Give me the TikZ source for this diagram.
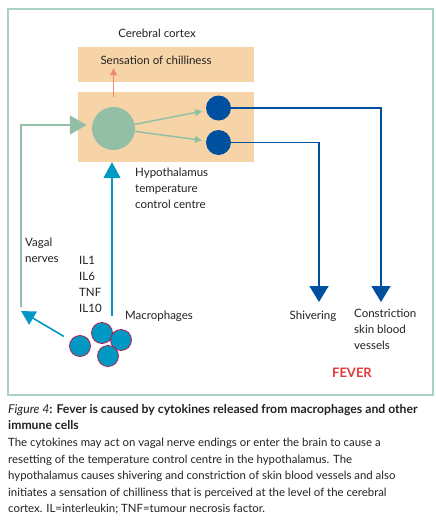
\documentclass[tikz,border=0pt]{standalone}
\usepackage{fontspec}
\setmainfont{Lato}
\usetikzlibrary{arrows.meta,calc}
\definecolor{peach}{HTML}{F6D4A8}
\definecolor{sage}{HTML}{93BFA6}
\definecolor{framegreen}{HTML}{A9D2C2}
\definecolor{navy}{HTML}{0050A0}
\definecolor{cytoblue}{HTML}{0099C4}
\definecolor{salmon}{HTML}{F08A70}
\definecolor{crimson}{HTML}{B01E50}
\definecolor{feverred}{HTML}{E03A3A}
\definecolor{textgray}{HTML}{222222}

\begin{document}
\begin{tikzpicture}[x=1pt,y=-1pt,text=textgray,
  box/.style={fill=peach,minimum width=176pt,inner sep=0pt},
  lbl/.style={font=\fontsize{11.5}{16}\selectfont,align=left,inner sep=0pt},
  mac/.style={circle,fill=cytoblue,draw=crimson,line width=0.8pt,minimum size=21pt,inner sep=0pt},
  eff/.style={circle,fill=navy,minimum size=25pt,inner sep=0pt}]
  \useasboundingbox (0,0) rectangle (436,531);
  \fill[white] (0,0) rectangle (436,531);
  \draw[framegreen,line width=1.2pt] (8,9) rectangle (433,395);
  % brain
  \node[box,minimum height=35pt] (cortex) at (166,64.5) {};
  \node[box,minimum height=70pt] (hypobox) at (166,127) {};
  \node[lbl] (cortexlbl) at (157,33) {Cerebral cortex};
  \node[lbl] (chill) at (156,60) {Sensation of chilliness};
  \node[circle,fill=sage,minimum size=43pt,inner sep=0pt] (hypo) at (113.5,128.5) {};
  \node[eff] (eff1) at (218.5,108) {};
  \node[eff] (eff2) at (218.5,142.5) {};
  % labels
  \node[lbl,anchor=north west] (hypolbl) at (135,168) {Hypothalamus\\temperature\\control centre};
  \node[lbl,anchor=north west] (vagal) at (25,238) {Vagal\\nerves};
  \node[lbl,anchor=north west] (cyto) at (79,256) {IL1\\IL6\\TNF\\IL10};
  \node[lbl,anchor=west] (maclbl) at (125,316) {Macrophages};
  \node[lbl] (shiver) at (313,316) {Shivering};
  \node[lbl,anchor=north west] (constr) at (354,309) {Constriction\\skin blood\\vessels};
  \node[font=\fontsize{13}{15}\selectfont\bfseries,text=feverred] (fever) at (352,373) {FEVER};
  % end points
  \coordinate (vagstart) at (21,307);
  \coordinate (vagtip) at (21,311);
  \coordinate (cytostart) at (112,316);
  \coordinate (shivend) at (319,302);
  \coordinate (conend) at (381,302);
  % connectors
  \draw[salmon,line width=1.5pt,-{Triangle[length=7pt,width=7pt]}]
    ([yshift=-5pt]hypobox.north -| hypo) -- ([yshift=14pt]cortex.south -| hypo);
  \draw[sage,line width=1.5pt,-{Triangle[length=7pt,width=7pt]},shorten >=4pt] (hypo) -- (eff1);
  \draw[sage,line width=1.5pt,-{Triangle[length=7pt,width=7pt]},shorten >=4pt] (hypo) -- (eff2);
  \draw[navy,line width=1.6pt,-{Triangle[length=16pt,width=19pt]}] (eff1) -| (conend);
  \draw[navy,line width=1.6pt,-{Triangle[length=16pt,width=19pt]}] (eff2) -| (shivend);
  \draw[sage,line width=1.6pt,-{Triangle[length=17pt,width=19pt]},shorten >=5pt]
    (vagstart) |- ([yshift=3.5pt]hypo.west);
  \draw[cytoblue,line width=1.6pt,-{Triangle[length=16pt,width=17pt]}]
    (cytostart) -- (cytostart |- hypobox.south);
  % macrophages
  \node[mac] (mac2) at (102,333) {};
  \node[mac] (mac3) at (121,340) {};
  \node[mac] (mac1) at (80,346) {};
  \node[mac] (mac4) at (108,356) {};
  \draw[cytoblue,line width=1.6pt,-{Triangle[length=14pt,width=15pt]},shorten <=8pt] (mac1) -- (vagtip);
  % caption
  \node[anchor=north west,align=left,inner sep=0pt,font=\fontsize{11.4}{16.6}\selectfont] (caption) at (8,404)
    {\textit{\fontsize{12.2}{16.6}\selectfont Figure 4}\textbf{\fontsize{12.2}{16.6}\selectfont: Fever is caused by cytokines released from macrophages and other}\\
     \textbf{\fontsize{12.2}{16.6}\selectfont immune cells}\\
     The cytokines may act on vagal nerve endings or enter the brain to cause a\\
     resetting of the temperature control centre in the hypothalamus. The\\
     hypothalamus causes shivering and constriction of skin blood vessels and also\\
     initiates a sensation of chilliness that is perceived at the level of the cerebral\\
     cortex. IL=interleukin; TNF=tumour necrosis factor.};
\end{tikzpicture}
\end{document}
